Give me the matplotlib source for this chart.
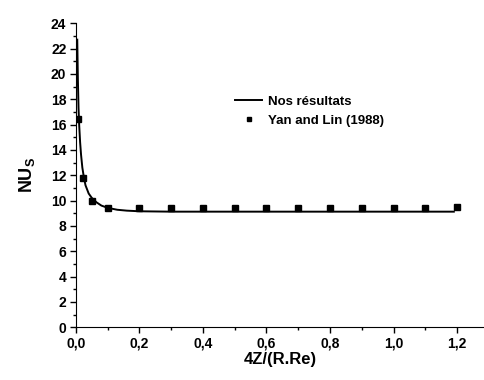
import matplotlib.pyplot as plt
from matplotlib.ticker import MultipleLocator, FuncFormatter

plt.rcParams['font.family'] = ['Liberation Sans', 'DejaVu Sans']
plt.rcParams['font.weight'] = 'bold'
plt.rcParams['mathtext.fontset'] = 'custom'
plt.rcParams['mathtext.rm'] = 'Liberation Sans:bold'
plt.rcParams['mathtext.bf'] = 'Liberation Sans:bold'

# courbe "Nos résultats"
x_nos = [0.004, 0.006, 0.008, 0.01, 0.013, 0.016, 0.02, 0.025, 0.03, 0.04, 0.05,
         0.065, 0.08, 0.1, 0.13, 0.16, 0.2, 0.3, 0.5, 0.8, 1.0, 1.19]
y_nos = [22.7, 19.5, 17.3, 16.0, 14.6, 13.6, 12.6, 11.8, 11.2, 10.55, 10.2,
         9.85, 9.6, 9.42, 9.27, 9.2, 9.15, 9.12, 9.12, 9.12, 9.12, 9.12]

# points Yan and Lin (1988)
x_yan = [0.006, 0.021, 0.05, 0.1, 0.2, 0.3, 0.4, 0.5, 0.6, 0.7, 0.8, 0.9, 1.0, 1.1, 1.2]
y_yan = [16.45, 11.8, 10.0, 9.4, 9.4, 9.4, 9.4, 9.4, 9.4, 9.4, 9.4, 9.4, 9.4, 9.4, 9.45]

fig = plt.figure(figsize=(4.84, 3.8), dpi=100)
ax = fig.add_axes([0.157, 0.139, 0.843, 0.8])

ax.plot(x_nos, y_nos, color='black', lw=1.4, label='Nos résultats')
ax.plot(x_yan, y_yan, 's', color='black', ms=4.5, label='Yan and Lin (1988)')

ax.set_xlim(0, 1.285)
ax.set_ylim(0, 24)
ax.xaxis.set_major_locator(MultipleLocator(0.2))
ax.xaxis.set_minor_locator(MultipleLocator(0.1))
ax.yaxis.set_major_locator(MultipleLocator(2))
ax.yaxis.set_minor_locator(MultipleLocator(1))
ax.xaxis.set_major_formatter(FuncFormatter(lambda v, p: f'{v:.1f}'.replace('.', ',')))
ax.yaxis.set_major_formatter(FuncFormatter(lambda v, p: f'{v:.0f}'))

for s in ['top', 'right']:
    ax.spines[s].set_visible(False)
ax.tick_params(which='major', direction='out', length=4, width=1, labelsize=10, pad=3)
ax.tick_params(which='minor', direction='out', length=2, width=1)

ax.set_xlabel('4Z/(R.Re)', fontsize=12, fontweight='bold', labelpad=1)
ax.set_ylabel(r'NU$_\mathbf{S}$', fontsize=13, fontweight='bold', labelpad=10)

ax.legend(loc='upper left', bbox_to_anchor=(0.36, 0.80), frameon=False,
          prop={'size': 9.5, 'weight': 'bold'}, handlelength=2.1, markerscale=0.7,
          handletextpad=0.4, labelspacing=0.5)

fig.savefig('out.png', dpi=100)
